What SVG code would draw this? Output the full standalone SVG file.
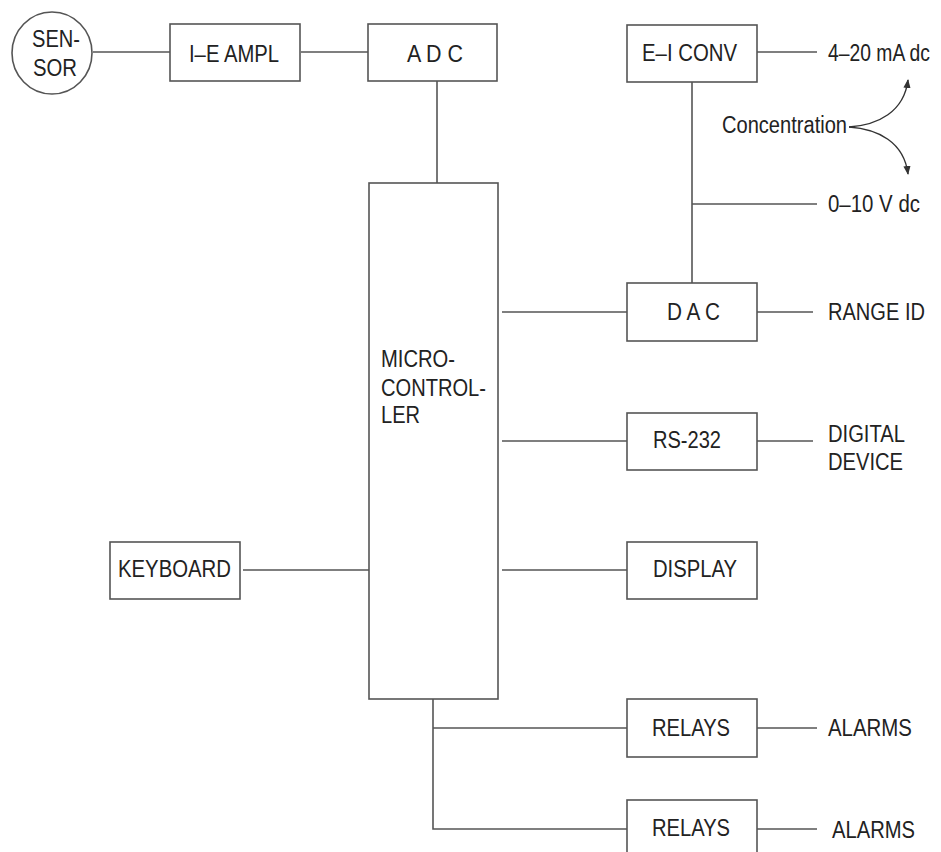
<svg xmlns="http://www.w3.org/2000/svg" width="941" height="852" viewBox="0 0 941 852">
<defs>
<style>
.box{fill:#fff;stroke:#555;stroke-width:1.6}
.ln{fill:none;stroke:#555;stroke-width:1.6}
.cv{fill:none;stroke:#333;stroke-width:1.4}
text{font-family:"Liberation Sans",Arial,sans-serif;font-size:23px;fill:#222}
</style>
<marker id="ah" viewBox="0 0 10 10" refX="9" refY="5" markerWidth="9" markerHeight="9" markerUnits="userSpaceOnUse" orient="auto">
<path d="M0,1 L10,5 L0,9 Z" fill="#333"/>
</marker>
</defs>
<rect width="941" height="852" fill="#fff"/>
<g id="connectors">
<line class="ln" x1="93" y1="52" x2="171" y2="52"/>
<line class="ln" x1="301" y1="52" x2="368" y2="52"/>
<line class="ln" x1="437" y1="81" x2="437" y2="183"/>
<line class="ln" x1="757" y1="52" x2="817" y2="52"/>
<line class="ln" x1="692" y1="82" x2="692" y2="283"/>
<line class="ln" x1="692" y1="204" x2="817" y2="204"/>
<line class="ln" x1="502" y1="312" x2="628" y2="312"/>
<line class="ln" x1="757" y1="312" x2="813" y2="312"/>
<line class="ln" x1="502" y1="441" x2="627" y2="441"/>
<line class="ln" x1="757" y1="441" x2="813" y2="441"/>
<line class="ln" x1="243" y1="570" x2="373" y2="570"/>
<line class="ln" x1="502" y1="570" x2="627" y2="570"/>
<polyline class="ln" points="433,699 433,829 627,829"/>
<line class="ln" x1="433" y1="728" x2="627" y2="728"/>
<line class="ln" x1="757" y1="728" x2="817" y2="728"/>
<line class="ln" x1="757" y1="829" x2="817" y2="829"/>
<path class="cv" d="M849,127 C878,125 904,112 908,80" marker-end="url(#ah)"/>
<path class="cv" d="M849,127 C878,129 904,142 908,174" marker-end="url(#ah)"/>
</g>
<g id="sensor">
<ellipse class="box" cx="52" cy="53" rx="40" ry="41"/>
<text x="32" y="47" textLength="48" lengthAdjust="spacingAndGlyphs">SEN-</text>
<text x="33" y="76" textLength="44" lengthAdjust="spacingAndGlyphs">SOR</text>
</g>
<g id="ie-ampl">
<rect class="box" x="170" y="24" width="130" height="57"/>
<text x="189" y="62" textLength="90" lengthAdjust="spacingAndGlyphs">I–E AMPL</text>
</g>
<g id="adc">
<rect class="box" x="368" y="24" width="129" height="57"/>
<text x="407" y="62" textLength="56" lengthAdjust="spacingAndGlyphs">A D C</text>
</g>
<g id="ei-conv">
<rect class="box" x="627" y="25" width="130" height="57"/>
<text x="642" y="61" textLength="95" lengthAdjust="spacingAndGlyphs">E–I CONV</text>
</g>
<g id="out-ma">
<text transform="translate(828,61) scale(0.84,1)" x="0" y="0">4–20 mA dc</text>
</g>
<g id="concentration">
<text x="722" y="133" textLength="125" lengthAdjust="spacingAndGlyphs">Concentration</text>
</g>
<g id="out-v">
<text x="828" y="212" textLength="92" lengthAdjust="spacingAndGlyphs">0–10 V dc</text>
</g>
<g id="microcontroller">
<rect class="box" x="369" y="183" width="129" height="516"/>
<text x="381" y="367" textLength="74" lengthAdjust="spacingAndGlyphs">MICRO-</text>
<text x="381" y="396" textLength="105" lengthAdjust="spacingAndGlyphs">CONTROL-</text>
<text x="381" y="423" textLength="39" lengthAdjust="spacingAndGlyphs">LER</text>
</g>
<g id="dac">
<rect class="box" x="627" y="283" width="130" height="58"/>
<text x="667" y="320" textLength="53" lengthAdjust="spacingAndGlyphs">D A C</text>
</g>
<g id="range-id">
<text x="828" y="320" textLength="97" lengthAdjust="spacingAndGlyphs">RANGE ID</text>
</g>
<g id="rs232">
<rect class="box" x="627" y="413" width="130" height="57"/>
<text x="653" y="448" textLength="68" lengthAdjust="spacingAndGlyphs">RS-232</text>
</g>
<g id="digital-device">
<text x="828" y="442" textLength="77" lengthAdjust="spacingAndGlyphs">DIGITAL</text>
<text x="828" y="470" textLength="75" lengthAdjust="spacingAndGlyphs">DEVICE</text>
</g>
<g id="keyboard">
<rect class="box" x="110" y="542" width="130" height="57"/>
<text x="118" y="577" textLength="113" lengthAdjust="spacingAndGlyphs">KEYBOARD</text>
</g>
<g id="display">
<rect class="box" x="627" y="542" width="130" height="57"/>
<text x="653" y="577" textLength="84" lengthAdjust="spacingAndGlyphs">DISPLAY</text>
</g>
<g id="relays1">
<rect class="box" x="627" y="699" width="130" height="58"/>
<text x="652" y="736" textLength="78" lengthAdjust="spacingAndGlyphs">RELAYS</text>
</g>
<g id="alarms1">
<text x="828" y="736" textLength="84" lengthAdjust="spacingAndGlyphs">ALARMS</text>
</g>
<g id="relays2">
<rect class="box" x="627" y="800" width="130" height="60"/>
<text x="652" y="836" textLength="78" lengthAdjust="spacingAndGlyphs">RELAYS</text>
</g>
<g id="alarms2">
<text x="832" y="838" textLength="83" lengthAdjust="spacingAndGlyphs">ALARMS</text>
</g>
</svg>
